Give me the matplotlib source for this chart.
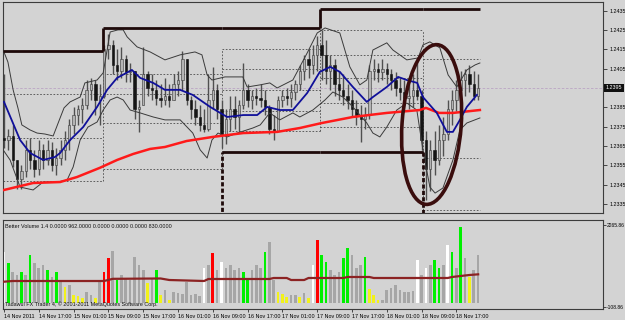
"""
MetaTrader-style EURUSD chart (14-18 Nov 2011): candles, Bollinger bands,
moving averages, daily levels and a Better Volume sub-panel.
"""
import numpy as np
import matplotlib
matplotlib.use("Agg")
import matplotlib.pyplot as plt
from matplotlib.patches import Ellipse
from matplotlib.transforms import IdentityTransform, blended_transform_factory

# ---------------- data (hourly bars, bar 0 = 14 Nov 09:00) ----------------
OPEN = [1.2369, 1.2368, 1.2370, 1.2358, 1.2348, 1.2352, 1.2363, 1.2358, 1.2353, 1.2363,
        1.2358, 1.2363, 1.2355, 1.2359, 1.2363, 1.2368, 1.2376, 1.2381, 1.2384, 1.2386,
        1.2394, 1.2397, 1.2389, 1.2391, 1.2415, 1.2417, 1.2407, 1.2404, 1.2410, 1.2403,
        1.2404, 1.2384, 1.2386, 1.2402, 1.2395, 1.2394, 1.2390, 1.2389, 1.2391, 1.2389,
        1.2397, 1.2399, 1.2410, 1.2389, 1.2384, 1.2380, 1.2376, 1.2374, 1.2389, 1.2394,
        1.2384, 1.2371, 1.2379, 1.2384, 1.2380, 1.2386, 1.2394, 1.2389, 1.2391, 1.2390,
        1.2389, 1.2385, 1.2374, 1.2373, 1.2389, 1.2391, 1.2390, 1.2393, 1.2397, 1.2404,
        1.2410, 1.2407, 1.2412, 1.2417, 1.2412, 1.2404, 1.2407, 1.2397, 1.2394, 1.2391,
        1.2389, 1.2384, 1.2381, 1.2379, 1.2381, 1.2404, 1.2405, 1.2403, 1.2405, 1.2402,
        1.2399, 1.2395, 1.2393, 1.2390, 1.2391, 1.2394, 1.2391, 1.2368, 1.2353, 1.2363,
        1.2358, 1.2368, 1.2371, 1.2384, 1.2389, 1.2394, 1.2399, 1.2402, 1.2397, 1.2391]
HIGH = [1.2402, 1.2374, 1.2376, 1.2358, 1.2355, 1.2368, 1.2369, 1.2363, 1.2368, 1.2366,
        1.2368, 1.2367, 1.2364, 1.2368, 1.2373, 1.2379, 1.2385, 1.2386, 1.2390, 1.2399,
        1.2400, 1.2399, 1.2397, 1.2417, 1.2423, 1.2420, 1.2415, 1.2416, 1.2412, 1.2408,
        1.2404, 1.2389, 1.2416, 1.2404, 1.2402, 1.2399, 1.2397, 1.2400, 1.2397, 1.2402,
        1.2404, 1.2414, 1.2410, 1.2391, 1.2389, 1.2386, 1.2384, 1.2402, 1.2406, 1.2397,
        1.2389, 1.2384, 1.2391, 1.2391, 1.2389, 1.2408, 1.2397, 1.2394, 1.2395, 1.2397,
        1.2394, 1.2386, 1.2381, 1.2391, 1.2394, 1.2395, 1.2397, 1.2399, 1.2407, 1.2412,
        1.2415, 1.2417, 1.2422, 1.2425, 1.2420, 1.2412, 1.2410, 1.2404, 1.2402, 1.2397,
        1.2394, 1.2389, 1.2386, 1.2385, 1.2407, 1.2410, 1.2408, 1.2410, 1.2408, 1.2405,
        1.2403, 1.2400, 1.2399, 1.2397, 1.2402, 1.2410, 1.2394, 1.2373, 1.2368, 1.2373,
        1.2376, 1.2380, 1.2389, 1.2394, 1.2399, 1.2404, 1.2405, 1.2407, 1.2404, 1.2402]
LOW = [1.2364, 1.2363, 1.2354, 1.2343, 1.2343, 1.2349, 1.2353, 1.2349, 1.2350, 1.2353,
       1.2355, 1.2352, 1.2350, 1.2355, 1.2358, 1.2363, 1.2371, 1.2376, 1.2377, 1.2384,
       1.2389, 1.2381, 1.2376, 1.2390, 1.2410, 1.2402, 1.2399, 1.2400, 1.2398, 1.2398,
       1.2379, 1.2372, 1.2386, 1.2391, 1.2389, 1.2386, 1.2385, 1.2386, 1.2385, 1.2389,
       1.2391, 1.2394, 1.2386, 1.2379, 1.2376, 1.2373, 1.2372, 1.2373, 1.2384, 1.2379,
       1.2364, 1.2366, 1.2373, 1.2374, 1.2372, 1.2384, 1.2385, 1.2384, 1.2386, 1.2385,
       1.2381, 1.2371, 1.2368, 1.2373, 1.2385, 1.2386, 1.2385, 1.2389, 1.2394, 1.2399,
       1.2400, 1.2402, 1.2404, 1.2399, 1.2397, 1.2394, 1.2391, 1.2389, 1.2386, 1.2384,
       1.2380, 1.2376, 1.2367, 1.2374, 1.2379, 1.2399, 1.2398, 1.2399, 1.2397, 1.2394,
       1.2391, 1.2389, 1.2386, 1.2384, 1.2385, 1.2389, 1.2363, 1.2337, 1.2342, 1.2350,
       1.2355, 1.2360, 1.2368, 1.2376, 1.2383, 1.2389, 1.2391, 1.2393, 1.2389, 1.2389]
CLOSE = [1.2368, 1.2370, 1.2358, 1.2348, 1.2352, 1.2363, 1.2358, 1.2353, 1.2363, 1.2358,
         1.2363, 1.2355, 1.2359, 1.2363, 1.2368, 1.2376, 1.2381, 1.2384, 1.2386, 1.2394,
         1.2397, 1.2389, 1.2391, 1.2415, 1.2417, 1.2407, 1.2404, 1.2410, 1.2403, 1.2404,
         1.2384, 1.2385, 1.2402, 1.2395, 1.2394, 1.2390, 1.2389, 1.2391, 1.2389, 1.2397,
         1.2399, 1.2410, 1.2389, 1.2384, 1.2380, 1.2376, 1.2374, 1.2389, 1.2394, 1.2384,
         1.2371, 1.2379, 1.2384, 1.2380, 1.2386, 1.2394, 1.2389, 1.2391, 1.2390, 1.2389,
         1.2385, 1.2374, 1.2373, 1.2389, 1.2391, 1.2390, 1.2393, 1.2397, 1.2404, 1.2410,
         1.2407, 1.2412, 1.2417, 1.2412, 1.2404, 1.2407, 1.2397, 1.2394, 1.2391, 1.2389,
         1.2384, 1.2381, 1.2379, 1.2381, 1.2404, 1.2405, 1.2403, 1.2405, 1.2402, 1.2399,
         1.2395, 1.2393, 1.2390, 1.2391, 1.2394, 1.2391, 1.2368, 1.2353, 1.2363, 1.2358,
         1.2368, 1.2371, 1.2384, 1.2389, 1.2394, 1.2399, 1.2402, 1.2397, 1.2391, 1.2395]

# Bollinger bands (read at irregular bars)
BB_UP_BARS = [-0.2, 0.9, 2.1, 3.2, 4.1, 6.0, 7.6, 9.4, 11.3, 12.9, 13.8, 15.2, 17.5, 18.6,
              21.4, 22.8, 23.7, 24.4, 26.2, 27.4, 28.3, 30.6, 33.6, 37.0, 40.5, 43.9, 45.5,
              46.7, 47.8, 50.8, 54.9, 55.9, 58.9, 61.1, 62.8, 66.4, 69.7, 72.0, 73.8, 77.2,
              79.5, 81.8, 83.4, 84.8, 88.0, 89.4, 92.6, 95.2, 96.3, 97.9, 100.2, 102.1,
              104.1, 106.4, 108.3, 109.4]
BB_UP = [1.24146, 1.24084, 1.23940, 1.23847, 1.23759, 1.23733, 1.23717, 1.23712, 1.23702,
         1.23795, 1.23847, 1.23878, 1.23903, 1.23976, 1.23991, 1.24028, 1.24146, 1.24239,
         1.24250, 1.24250, 1.24214, 1.24162, 1.24136, 1.24095, 1.24121, 1.24136, 1.24121,
         1.24017, 1.23991, 1.24007, 1.24007, 1.23955, 1.23966, 1.23976, 1.23950, 1.23991,
         1.24131, 1.24234, 1.24260, 1.24234, 1.24059, 1.23966, 1.23991, 1.24146, 1.24183,
         1.24146, 1.24095, 1.24105, 1.24172, 1.24188, 1.24157, 1.24017, 1.23955, 1.24043,
         1.24069, 1.24079]
BB_LO_BARS = [-0.2, 1.4, 2.5, 3.7, 6.7, 9.0, 12.2, 14.5, 15.9, 17.5, 19.3, 21.4, 22.8, 24.4,
              26.0, 27.4, 29.0, 31.3, 34.3, 37.0, 40.5, 43.4, 45.1, 46.7, 47.8, 49.2, 51.3,
              53.6, 57.2, 58.9, 61.1, 63.4, 66.4, 68.0, 71.0, 73.8, 75.6, 77.9, 80.2, 83.4,
              84.8, 86.4, 88.0, 90.3, 92.6, 94.9, 96.3, 97.9, 99.1, 100.9, 103.2, 104.8,
              106.4, 109.4]
BB_LO = [1.23630, 1.23578, 1.23511, 1.23438, 1.23423, 1.23464, 1.23464, 1.23474, 1.23542,
         1.23681, 1.23748, 1.23774, 1.23836, 1.23888, 1.23903, 1.23888, 1.23836, 1.23821,
         1.23800, 1.23785, 1.23785, 1.23717, 1.23630, 1.23588, 1.23681, 1.23717, 1.23697,
         1.23717, 1.23743, 1.23759, 1.23821, 1.23785, 1.23821, 1.23800, 1.23836, 1.23888,
         1.23929, 1.23903, 1.23852, 1.23769, 1.23717, 1.23697, 1.23748, 1.23836, 1.23872,
         1.23836, 1.23630, 1.23438, 1.23407, 1.23433, 1.23578, 1.23733, 1.23769, 1.23795]

# fast moving average (blue)
MA_FAST_BARS = [0, 3.7, 6.0, 9.0, 11.7, 12.9, 15.2, 18.2, 21.4, 23.7, 26.0, 29.4, 31.3, 34.3,
                37.0, 40.5, 43.4, 47.4, 49.7, 51.3, 55.0, 58.2, 60.5, 63.4, 66.4, 69.7, 72.6,
                75.0, 77.2, 80.2, 83.4, 84.8, 88.0, 90.6, 92.6, 95.0, 96.3, 99.5, 101.8,
                103.2, 104.8, 106.4, 108.7]
MA_FAST = [1.23878, 1.23681, 1.23614, 1.23578, 1.23593, 1.23614, 1.23681, 1.23748, 1.23852,
           1.23940, 1.24002, 1.24043, 1.24002, 1.23976, 1.23940, 1.23940, 1.23914, 1.23852,
           1.23821, 1.23800, 1.23810, 1.23810, 1.23852, 1.23836, 1.23836, 1.23924, 1.24033,
           1.24059, 1.24033, 1.23955, 1.23878, 1.23903, 1.23955, 1.24007, 1.23991, 1.23976,
           1.23903, 1.23821, 1.23723, 1.23723, 1.23785, 1.23852, 1.23914]

# slow moving average (red, 200)
MA_SLOW_BARS = [0, 6.7, 12.9, 16.8, 22.0, 26.0, 29.7, 33.6, 37.0, 42.0, 48.0, 55.0, 62.8,
                68.0, 73.1, 80.2, 88.0, 95.6, 97.0, 100.0, 103.2, 109.4]
MA_SLOW = [1.23423, 1.23459, 1.23464, 1.23490, 1.23537, 1.23578, 1.23609, 1.23635, 1.23645,
           1.23676, 1.23697, 1.23717, 1.23723, 1.23743, 1.23769, 1.23800, 1.23821, 1.23836,
           1.23847, 1.23821, 1.23821, 1.23836]

# daily boxes / levels
DAY_EDGES = [-0.23, 22.8, 50.1, 72.6, 96.3, 109.4]
DAY_LEVELS = [
    [1.2392, 1.2369, 1.2347],
    [1.2402, 1.2392, 1.2377, 1.2353],
    [1.2415, 1.2405, 1.2394, 1.2383, 1.2373],
    [1.2425, 1.2412, 1.2400, 1.2387, 1.2375],
    [1.2410, 1.2359, 1.2332],
]
DAY_HIGH = [1.2414, 1.2426, 1.2426, 1.2436, 1.2436]
DAY_LOW = [1.2318, 1.2318, 1.2362, 1.2362, 1.2318]
LAST_PRICE = 1.2395

# marked area (ellipse): centre bar/price and extents
ELLIPSE_CENTER = (98.3, 1.23761)
ELLIPSE_BARS = 13.6
ELLIPSE_PRICE = 0.00827

PRICE_TICKS = [1.2335, 1.2345, 1.2355, 1.2365, 1.2375, 1.2385, 1.2395, 1.2405, 1.2415,
               1.2425, 1.2435]

# Better Volume
VOLUME = [1480, 1160, 900, 810, 900, 810, 1390, 1160, 1010, 1100,
          960, 750, 900, 670, 460, 520, 230, 200, 150, 320,
          230, 145, 610, 900, 1300, 1500, 670, 810, 720, 670,
          1330, 1100, 960, 580, 720, 960, 230, 380, 90, 320,
          290, 260, 610, 230, 260, 200, 1010, 1100, 1450, 960,
          1190, 1010, 1100, 960, 1010, 900, 670, 960, 1100, 1010,
          1480, 1770, 670, 320, 260, 170, 230, 230, 170, 290,
          145, 1100, 1820, 1390, 1190, 960, 810, 900, 1300, 1590,
          1390, 1010, 1100, 1330, 405, 230, 90, 90, 380, 430,
          520, 380, 320, 320, 350, 1245, 810, 1010, 1100, 1245,
          1010, 1100, 1680, 1480, 1010, 2200, 1300, 750, 960, 1390]
VOL_TYPE = ("WGggGgGggg" "GgGgYgYYYg" "gYgRRgGggg" "gggYgGYgYg" "ggggggWgRg"
            "WggggGGggg" "GggYYYggYg" "YWRGGgggGG" "gggGYYYggg" "gggggWgWgG"
            "GgWGgGgYgg")
VOL_MA_BARS = [0, 2, 23, 25, 36, 38, 46, 47, 61, 62, 65, 66, 69, 70, 78, 79, 84, 85, 102,
               103, 105, 107, 109]
VOL_MA = [617, 637, 637, 700, 710, 666, 637, 695, 695, 724, 724, 666, 666, 724, 724, 753,
          753, 724, 724, 753, 782, 811, 830]
VOL_TICKS = [2265.86, -108.86]

DATE_TICKS = [0, 8, 16, 24, 32, 40, 48, 56, 64, 72, 80, 88, 96, 104]
DATE_LABELS = ["14 Nov 2011", "14 Nov 17:00", "15 Nov 01:00", "15 Nov 09:00",
               "15 Nov 17:00", "16 Nov 01:00", "16 Nov 09:00", "16 Nov 17:00",
               "17 Nov 01:00", "17 Nov 09:00", "17 Nov 17:00", "18 Nov 01:00",
               "18 Nov 09:00", "18 Nov 17:00"]

# ---------------- style ----------------
BG = "#d3d3d3"
FS = 3.9
VOL_COLORS = {"g": "#a6a6a6", "G": "#00f000", "R": "#ff0000", "W": "#ffffff", "Y": "#f2f21a"}
plt.rcParams["font.family"] = ["Liberation Sans", "DejaVu Sans"]

bars = np.arange(len(CLOSE))
o, h, l, c = map(np.array, (OPEN, HIGH, LOW, CLOSE))

fig = plt.figure(figsize=(6.25, 3.2), dpi=100, facecolor=BG)
ax = fig.add_axes([3 / 625, 1 - 213 / 320, 600 / 625, 211 / 320], facecolor=BG)
axv = fig.add_axes([3 / 625, 1 - 309 / 320, 600 / 625, 89 / 320], facecolor=BG)

XLIM = (-0.23, 137.7)
ax.set_xlim(*XLIM)
ax.set_ylim(1.23304, 1.24394)
axv.set_xlim(*XLIM)
axv.set_ylim(-174, 2404)

# day range boxes (dotted)
for d, levels in enumerate(DAY_LEVELS):
    ax.hlines(levels, DAY_EDGES[d], DAY_EDGES[d + 1], colors="#4a4a4a",
              linestyles=(0, (2, 2)), lw=0.6, zorder=1)
for d in range(1, len(DAY_LEVELS)):
    span = DAY_LEVELS[d - 1] + DAY_LEVELS[d]
    ax.vlines(DAY_EDGES[d], min(span), max(span), colors="#4a4a4a",
              linestyles=(0, (2, 2)), lw=0.6, zorder=1)

ax.axhline(LAST_PRICE, color="#bba4c4", ls=(0, (3, 2)), lw=0.6, zorder=1)

# candles
ax.vlines(bars, l, h, color="#505050", lw=1.0, zorder=2)
up = c >= o
ax.bar(bars[up], (c - o)[up], bottom=o[up], width=0.55, color="#b4b4b4",
       edgecolor="#3a3a3a", lw=0.4, zorder=3)
ax.bar(bars[~up], (o - c)[~up], bottom=c[~up], width=0.55, color="#151515",
       edgecolor="#151515", lw=0.4, zorder=3)

# indicators
ax.plot(BB_UP_BARS, BB_UP, color="#3a3a3a", lw=0.7, zorder=4)
ax.plot(BB_LO_BARS, BB_LO, color="#3a3a3a", lw=0.7, zorder=4)
ax.plot(MA_SLOW_BARS, MA_SLOW, color="#ff1a1a", lw=1.8, zorder=5)
ax.plot(MA_FAST_BARS, MA_FAST, color="#10109a", lw=1.3, zorder=5)

# daily high / low steps
LINE_DARK = "#1e0a0a"
for d in range(len(DAY_HIGH)):
    ax.hlines(DAY_HIGH[d], DAY_EDGES[d], DAY_EDGES[d + 1], colors=LINE_DARK, lw=2, zorder=6)
    ax.hlines(DAY_LOW[d], DAY_EDGES[d], DAY_EDGES[d + 1], colors=LINE_DARK, lw=2, zorder=6)
    if d > 0 and DAY_HIGH[d] != DAY_HIGH[d - 1]:
        ax.vlines(DAY_EDGES[d], DAY_HIGH[d - 1], DAY_HIGH[d], colors=LINE_DARK, lw=2, zorder=6)
    if d > 0 and DAY_LOW[d] != DAY_LOW[d - 1]:
        ax.vlines(DAY_EDGES[d], DAY_LOW[d - 1], DAY_LOW[d], colors=LINE_DARK, lw=2,
                  linestyles=(0, (1.5, 0.8)), zorder=6)

# ellipse drawn in display space so it can be tilted like the original
cx, cy = ax.transData.transform(ELLIPSE_CENTER)
ex, ey = ax.transData.transform((ELLIPSE_CENTER[0] + ELLIPSE_BARS,
                                 ELLIPSE_CENTER[1] + ELLIPSE_PRICE))
ax.add_patch(Ellipse((cx, cy), ex - cx, ey - cy, angle=-4, fill=False,
                     edgecolor="#3a0d0d", lw=2.6, transform=IdentityTransform(), zorder=7))

# right price scale (the last-price box replaces its own tick label)
ax.yaxis.tick_right()
ax.set_yticks(PRICE_TICKS)
ax.set_yticklabels(["" if p == LAST_PRICE else f"{p:.4f}" for p in PRICE_TICKS])
ax.tick_params(axis="y", length=3, width=0.6, color="#303030", pad=1.5, labelsize=FS)
ax.set_xticks([])
trans = blended_transform_factory(ax.transAxes, ax.transData)
ax.text(1.004, LAST_PRICE, f"{LAST_PRICE:.4f}", transform=trans, ha="left", va="center",
        fontsize=FS, color="white", zorder=10,
        bbox=dict(boxstyle="square,pad=0.3", facecolor="#101010", edgecolor="none"))

# volume panel
axv.bar(bars, VOLUME, width=0.6, color=[VOL_COLORS[k] for k in VOL_TYPE], lw=0, zorder=2)
axv.plot(VOL_MA_BARS, VOL_MA, color="#8c2323", lw=1.6, zorder=3)
axv.yaxis.tick_right()
axv.set_yticks(VOL_TICKS)
axv.set_yticklabels([f"{v:.2f}" for v in VOL_TICKS])
axv.tick_params(axis="y", length=2, width=0.6, color="#303030", pad=0.6, labelsize=3.6)
axv.set_xticks(DATE_TICKS)
axv.set_xticklabels(DATE_LABELS, ha="left")
axv.tick_params(axis="x", length=2.5, width=0.6, color="#303030", pad=1, labelsize=FS)
axv.text(0.0035, 0.93, "Better Volume 1.4 0.0000 962.0000 0.0000 0.0000 0.0000 830.0000",
         transform=axv.transAxes, ha="left", va="center", fontsize=FS, color="#111111")
axv.text(0.0035, 0.05, "Tadawul FX Trader 4, \u00a9 2001-2011 MetaQuotes Software Corp.",
         transform=axv.transAxes, ha="left", va="center", fontsize=FS, color="#111111",
         zorder=4)

for a in (ax, axv):
    for s in a.spines.values():
        s.set_color("#3c3c3c")
        s.set_linewidth(0.8)

fig.savefig("out.png", dpi=100, facecolor=BG)
